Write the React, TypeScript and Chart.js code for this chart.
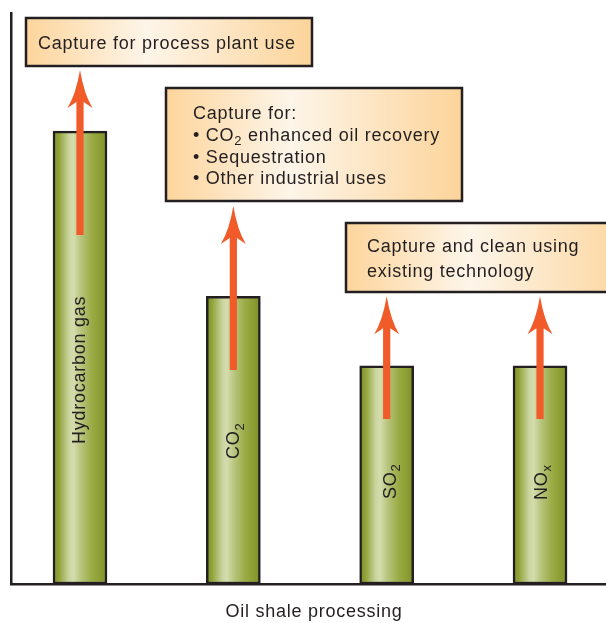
import React, { useEffect, useRef } from 'react';
import { Chart, registerables } from 'chart.js';

Chart.register(...registerables);

// ---- data ----
const categories = ['Hydrocarbon gas', 'CO_2', 'SO_2', 'NO_x'];
const xPositions = [0, 1, 2, 3];
const barValues = [79.3, 50.4, 38.2, 38.2];
const arrowFrom = [61.1, 37.5, 28.9, 28.9];
const arrowTo = [90.0, 66.2, 50.4, 50.4];
const xTitle = 'Oil shale processing';
const box1Lines = ['Capture for process plant use'];
const box2Lines = ['Capture for:', '\u2022 CO_2 enhanced oil recovery', '\u2022 Sequestration', '\u2022 Other industrial uses'];
const box3Lines = ['Capture and clean using', 'existing technology'];

// ---- style ----
const INK = '#231f20';
const ARROW = '#f15a29';
const FONT = '"Liberation Sans", Arial, Helvetica, sans-serif';
const FS = 18;
const BAR_W = 54;

function drawRich(ctx: CanvasRenderingContext2D, text: string, x: number, y: number, size: number) {
  const parts = text.split(/_(.)/);
  let cx = x;
  parts.forEach((p, k) => {
    const sub = k % 2 === 1;
    ctx.font = `${sub ? Math.round(size * 0.74) : size}px ${FONT}`;
    ctx.fillText(p, cx, y + (sub ? size * 0.24 : 0));
    cx += ctx.measureText(p).width;
  });
}

function drawBox(ctx: CanvasRenderingContext2D, l: number, t: number, r: number, b: number,
  lines: string[], tx: number, baselines: number[]) {
  const g = ctx.createLinearGradient(l, 0, r, 0);
  g.addColorStop(0, '#fdd59c');
  g.addColorStop(0.42, '#fdf5e9');
  g.addColorStop(1, '#fcd49a');
  ctx.fillStyle = g;
  ctx.fillRect(l, t, r - l, b - t);
  ctx.lineWidth = 2.5;
  ctx.strokeStyle = INK;
  ctx.strokeRect(l, t, r - l, b - t);
  ctx.fillStyle = INK;
  ctx.textAlign = 'left';
  ctx.textBaseline = 'alphabetic';
  lines.forEach((ln, i) => drawRich(ctx, ln, tx, baselines[i], FS));
}

function drawArrow(ctx: CanvasRenderingContext2D, cx: number, tipY: number, baseY: number) {
  const hw = 3.6, bw = 12.5, hl = 38, notch = 32;
  ctx.beginPath();
  ctx.moveTo(cx, tipY);
  ctx.quadraticCurveTo(cx + 4, tipY + 24, cx + bw, tipY + hl);
  ctx.lineTo(cx + hw, tipY + notch);
  ctx.lineTo(cx + hw, baseY);
  ctx.lineTo(cx - hw, baseY);
  ctx.lineTo(cx - hw, tipY + notch);
  ctx.lineTo(cx - bw, tipY + hl);
  ctx.quadraticCurveTo(cx - 4, tipY + 24, cx, tipY);
  ctx.closePath();
  ctx.fillStyle = ARROW;
  ctx.fill();
}

const labelStart = [444, 459, 499, 500];
const labelShift = [4.5, 6, 9, 6.5];

const overlay = {
  id: 'overlay',
  beforeDraw(chart: any) {
    (chart.ctx as any).letterSpacing = '0.75px';
  },
  afterDatasetsDraw(chart: any) {
    const ctx: CanvasRenderingContext2D = chart.ctx;
    const xs = chart.scales.x;
    const ys = chart.scales.y;
    ctx.save();
    (ctx as any).letterSpacing = '0.75px';
    drawBox(ctx, 26, 18, 312, 66, box1Lines, 38, [48.5]);
    drawBox(ctx, 166, 88, 462, 201, box2Lines, 193, [118.5, 141, 162.5, 184]);
    drawBox(ctx, 346, 223, 640, 292, box3Lines, 367, [252, 276.5]);
    categories.forEach((lab, i) => {
      const cx = xs.getPixelForValue(xPositions[i]);
      drawArrow(ctx, cx, ys.getPixelForValue(arrowTo[i]), ys.getPixelForValue(arrowFrom[i]));
    });
    categories.forEach((lab, i) => {
      const cx = xs.getPixelForValue(xPositions[i]);
      ctx.save();
      ctx.translate(cx + labelShift[i], labelStart[i]);
      ctx.rotate(-Math.PI / 2);
      ctx.fillStyle = INK;
      ctx.textAlign = 'left';
      ctx.textBaseline = 'alphabetic';
      drawRich(ctx, lab, 0, 0, FS);
      ctx.restore();
    });
    ctx.restore();
  },
};

export default function App() {
  const ref = useRef<HTMLCanvasElement | null>(null);
  useEffect(() => {
    if (!ref.current) return;
    const barFill = (c: any) => {
      const chart = c.chart;
      const xs = chart.scales?.x;
      if (!xs || c.type !== 'data') return '#9aab45';
      const cx = xs.getPixelForValue(xPositions[c.dataIndex]);
      if (!Number.isFinite(cx)) return '#9aab45';
      const l = cx - BAR_W / 2, r = cx + BAR_W / 2;
      const g = chart.ctx.createLinearGradient(l, 0, r, 0);
      g.addColorStop(0, '#7f9127');
      g.addColorStop(0.1, '#8fa136');
      g.addColorStop(0.3, '#cbd5a0');
      g.addColorStop(0.38, '#d4dcad');
      g.addColorStop(0.52, '#b7c47c');
      g.addColorStop(0.72, '#9aab45');
      g.addColorStop(0.9, '#899b30');
      g.addColorStop(1, '#7d8f26');
      return g;
    };
    const chart = new Chart(ref.current, {
      type: 'bar',
      data: {
        datasets: [{
          data: barValues.map((v, i) => ({ x: xPositions[i], y: v })),
          backgroundColor: barFill,
          borderColor: INK,
          borderWidth: 2.5,
          borderSkipped: false,
          barThickness: BAR_W,
        }],
      },
      options: {
        responsive: false,
        animation: false,
        layout: { padding: { left: 11, top: 13, right: 0, bottom: 0 } },
        plugins: { legend: { display: false }, tooltip: { enabled: false } },
        scales: {
          x: {
            type: 'linear',
            min: -0.45,
            max: 3.502,
            offset: false,
            grid: { display: false },
            ticks: { display: false },
            border: { display: true, color: INK, width: 2.5 },
            title: {
              display: true,
              text: xTitle,
              color: INK,
              font: { family: FONT, size: FS, lineHeight: 1.2 },
              padding: 0,
            },
            afterFit: (s: any) => { s.height = 39; },
          },
          y: {
            min: 0,
            max: 100,
            grid: { display: false },
            ticks: { display: false },
            border: { display: true, color: INK, width: 2.5 },
            afterFit: (s: any) => { s.width = 0; },
          },
        },
      } as any,
      plugins: [overlay],
    });
    return () => chart.destroy();
  }, []);
  return (
    <div style={{ position: 'fixed', left: 0, top: 0, width: 606, height: 623, overflow: 'hidden', background: '#fff' }}>
      <canvas ref={ref} width={617} height={623} style={{ display: 'block' }} />
    </div>
  );
}
